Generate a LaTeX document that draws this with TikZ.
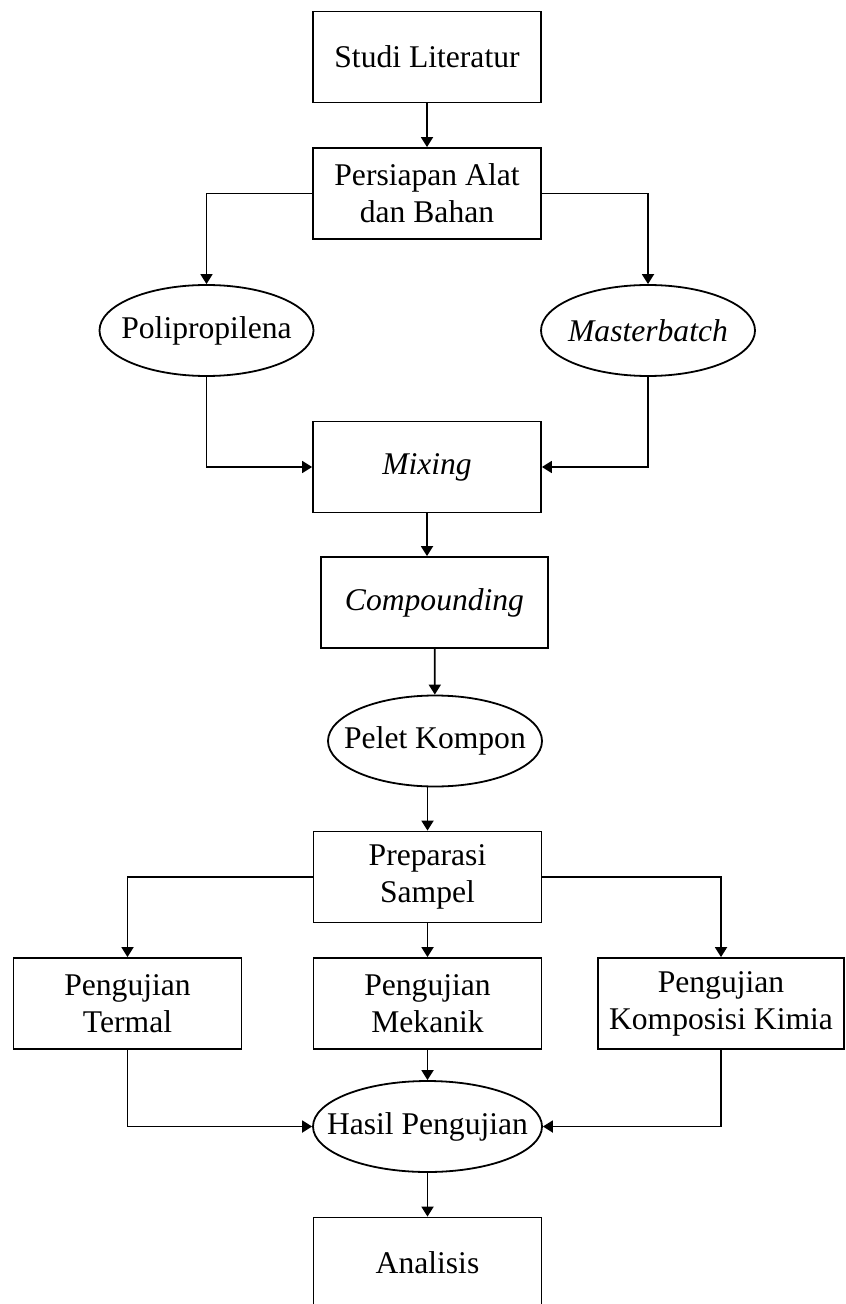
\documentclass[tikz,border=0pt]{standalone}
\usepackage{fontspec}
\setmainfont{Liberation Serif}
\usetikzlibrary{shapes.geometric,arrows.meta}

\newcommand{\ovtext}[1]{\makebox[0pt]{#1}}

\begin{document}
\begin{tikzpicture}[x=0.5pt,y=-0.5pt,
                every node/.style={line width=0.9pt,align=center,inner sep=1pt,font=\fontsize{15.8}{18.5}\selectfont},
                box/.style={draw,rectangle,minimum width=114pt,minimum height=45.5pt},
                oval/.style={draw,ellipse,minimum width=107pt,minimum height=45.5pt},
                arr/.style={-{Triangle[width=6pt,length=5pt]},line width=0.9pt}]
                \useasboundingbox (0,0) rectangle (845,1304);
                % bagian atas
                \node[box] (studi) at (427,57) {Studi Literatur};
                \node[box] (persiapan) at (427,193.5) {Persiapan Alat\\dan Bahan};
                \node[oval] (poli) at (206.5,330.5) {\ovtext{Polipropilena}};
                \node[oval] (master) at (648,330.5) {\ovtext{\textit{Masterbatch}}};
                \node[box] (mixing) at (427,467) {\textit{Mixing}};
                \node[box,minimum width=113.5pt] (compound) at (434.5,602.5) {\textit{Compounding}};
                \node[oval] (pelet) at (435,741) {\ovtext{Pelet Kompon}};
                % bagian bawah
                \node[box] (preparasi) at (427.5,877) {Preparasi\\Sampel};
                \node[box] (termal) at (127.5,1003.5) {Pengujian\\Termal};
                \node[box] (mekanik) at (427.5,1003.5) {Pengujian\\Mekanik};
                \node[box,minimum width=123pt] (kimia) at (721,1003.5) {Pengujian\\Komposisi Kimia};
                \node[oval,minimum width=114.5pt] (hasil) at (427.5,1126.5) {\ovtext{Hasil Pengujian}};
                \node[box] (analisis) at (427.5,1263) {Analisis};
                % panah
                \draw[arr] (studi) -- (persiapan);
                \draw[arr] (persiapan.west) -| (poli.north);
                \draw[arr] (persiapan.east) -| (master.north);
                \draw[arr] (poli.south) |- (mixing.west);
                \draw[arr] (master.south) |- (mixing.east);
                \draw[arr] (mixing.south) -- (mixing.south |- compound.north);
                \draw[arr] (compound) -- (pelet);
                \draw[arr] (pelet.south -| preparasi.north) -- (preparasi.north);
                \draw[arr] (preparasi.west) -| (termal.north);
                \draw[arr] (preparasi.east) -| (kimia.north);
                \draw[arr] (preparasi) -- (mekanik);
                \draw[arr] (mekanik) -- (hasil);
                \draw[arr] (termal.south) |- (hasil.west);
                \draw[arr] (kimia.south) |- (hasil.east);
                \draw[arr] (hasil) -- (analisis);
\end{tikzpicture}
\end{document}
